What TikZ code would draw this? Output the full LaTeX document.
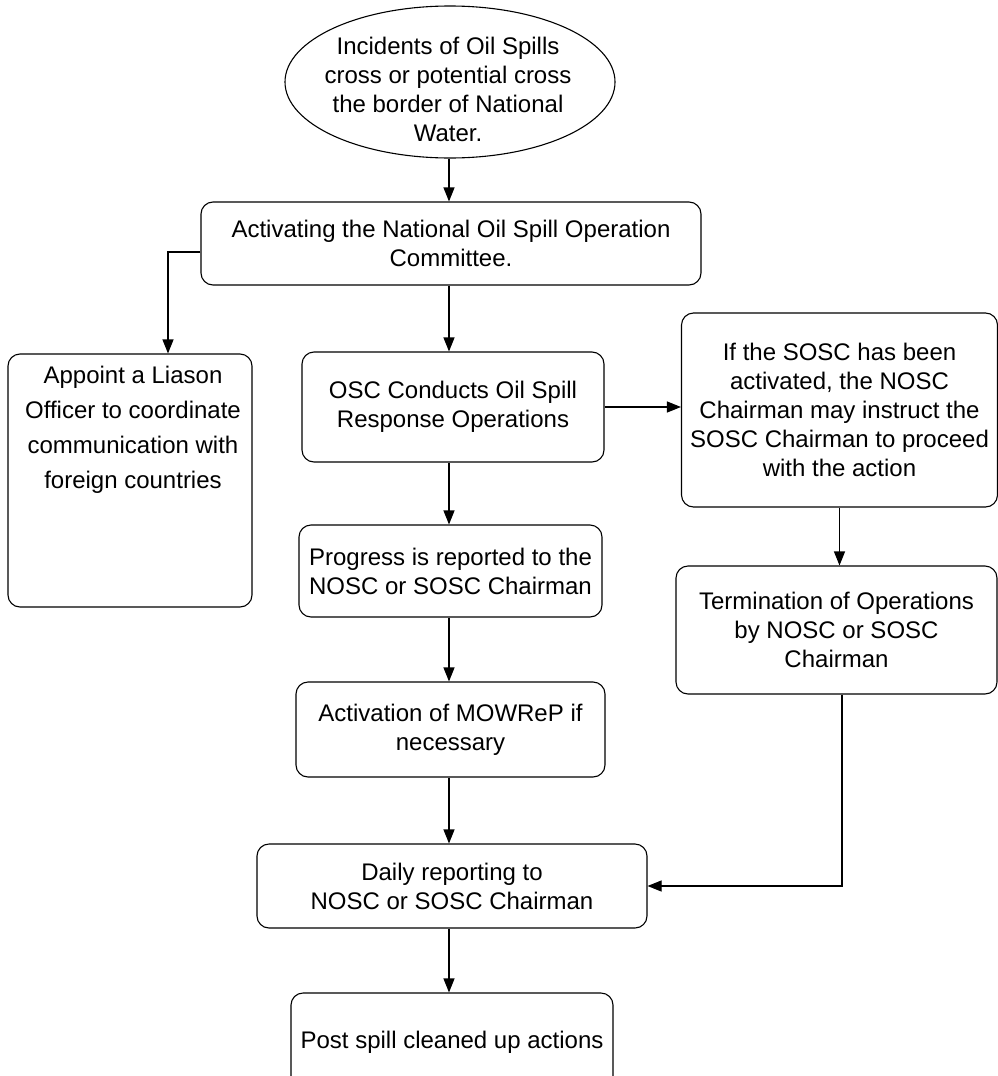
\documentclass[tikz,border=0pt]{standalone}
\usepackage{fontspec}
\setmainfont{Liberation Sans}
\usetikzlibrary{shapes.geometric,arrows.meta}
\tikzset{
  boxnode/.style={draw=black, line width=1.1pt, rounded corners=12pt, inner sep=0pt, align=center, font=\fontsize{24}{29}\selectfont},
  ellnode/.style={draw=black, line width=1.1pt, ellipse, inner sep=0pt},
  txt/.style={align=center, inner sep=0pt, font=\fontsize{24}{29}\selectfont},
  arr/.style={draw=black, line width=1.1pt, -{Triangle[length=14pt,width=11pt]}}
}
\begin{document}
\begin{tikzpicture}[x=1pt,y=-1pt]
\clip (0,0) rectangle (998,1076);
\fill[white] (0,0) rectangle (998,1076);
\coordinate (col) at (449,0);

\node[ellnode, minimum width=330pt, minimum height=152pt] (ell) at (450,82) {};
\node[txt] (elltext) at (448,89) {Incidents of Oil Spills\\cross or potential cross\\the border of National\\Water.};

\node[boxnode, minimum width=500pt, minimum height=83pt] (act) at (451,243.5) {Activating the National Oil Spill Operation\\Committee.};

\node[boxnode, minimum width=244pt, minimum height=253pt] (app) at (130,480.5) {};
\node[txt, font=\fontsize{24}{35}\selectfont] (apptext) at (133,430) {Appoint a Liason\\Officer to coordinate\\communication with\\foreign countries};

\node[boxnode, minimum width=302pt, minimum height=110pt] (osc) at (453,407) {OSC Conducts Oil Spill\\Response Operations};

\node[boxnode, minimum width=316pt, minimum height=194pt] (ifb) at (839.5,410) {If the SOSC has been\\activated, the NOSC\\Chairman may instruct the\\SOSC Chairman to proceed\\with the action};

\node[boxnode, minimum width=303pt, minimum height=92pt] (prog) at (450.5,571) {Progress is reported to the\\NOSC or SOSC Chairman};

\node[boxnode, minimum width=321pt, minimum height=128pt] (term) at (836.5,630) {Termination of Operations\\by NOSC or SOSC\\Chairman};

\node[boxnode, minimum width=309pt, minimum height=95pt] (actv) at (450.5,729.5) {Activation of MOWReP if\\necessary};

\node[boxnode, minimum width=390pt, minimum height=84pt] (daily) at (452,886) {Daily reporting to\\NOSC or SOSC Chairman};

\node[boxnode, minimum width=322pt, minimum height=98pt] (post) at (452,1042) {Post spill cleaned up actions};

% connectors
\draw[arr] (col |- ell.south) -- (col |- act.north);
\draw[arr] ([yshift=-8.5pt]act.west) -| ([xshift=38pt]app.north);
\draw[arr] (col |- act.south) -- (col |- osc.north);
\draw[arr] (osc.east) -- (osc.east -| ifb.west);
\draw[arr] (col |- osc.south) -- (col |- prog.north);
\draw[arr] (ifb.south) -- (ifb.south |- term.north);
\draw[arr] (col |- prog.south) -- (col |- actv.north);
\draw[arr] (col |- actv.south) -- (col |- daily.north);
\draw[arr] ([xshift=5.5pt]term.south) |- (daily.east);
\draw[arr] (col |- daily.south) -- (col |- post.north);
\end{tikzpicture}
\end{document}
